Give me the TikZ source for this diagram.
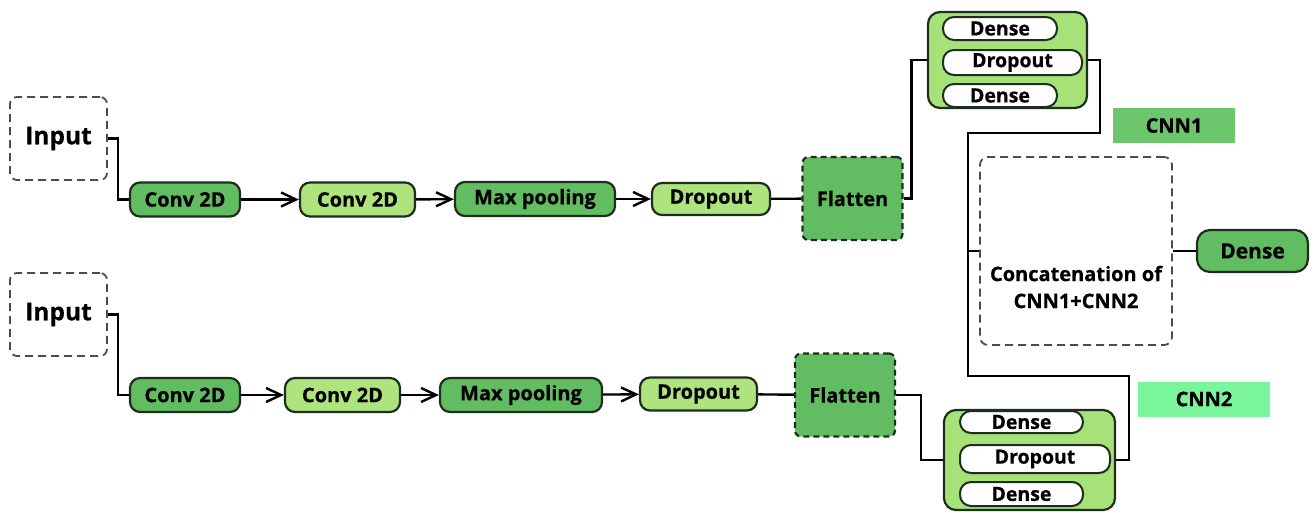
\documentclass[tikz,border=0pt]{standalone}
\usepackage{fontspec}
\setmainfont{Open Sans}[BoldFeatures={FakeBold=0.6}]
\usetikzlibrary{arrows.meta,calc}
\definecolor{gdark}{HTML}{62BD62}
\definecolor{glight}{HTML}{AEE37E}
\definecolor{ggroup}{HTML}{A6E278}
\definecolor{gtag}{HTML}{6CC66C}
\definecolor{gmint}{HTML}{7AF59C}
\definecolor{edge}{HTML}{1E2E1E}
\begin{document}
\begin{tikzpicture}[x=1pt,y=-1pt,
  every node/.style={font=\fontsize{20}{24}\selectfont\bfseries, inner sep=0pt},
  inbox/.style={draw=black!70, line width=1.8pt, dash pattern=on 8pt off 5pt,
    rounded corners=7pt, minimum width=97pt, minimum height=83pt,
    font=\fontsize{24.5}{28}\selectfont\bfseries},
  layerD/.style={draw=edge, line width=2.2pt, fill=gdark, rounded corners=10pt,
    minimum height=34pt},
  layerL/.style={layerD, fill=glight},
  flat/.style={draw=edge, line width=2.2pt, fill=gdark, dash pattern=on 6pt off 4pt,
    rounded corners=6pt, minimum width=100pt, minimum height=83pt},
  group/.style={draw=edge, line width=2.2pt, fill=ggroup, rounded corners=12pt},
  pill/.style={draw=edge, line width=2pt, fill=white, rounded corners=11pt,
    font=\fontsize{19.5}{22}\selectfont\bfseries},
  tag/.style={minimum width=122pt, minimum height=35pt},
  cat/.style={draw=black!70, line width=1.8pt, dash pattern=on 8pt off 5pt,
    rounded corners=8pt, minimum width=192pt, minimum height=188pt},
  wire/.style={draw=black, line width=2.4pt},
  arr/.style={wire, -{Straight Barb[length=15pt, width=14pt, line width=2.4pt]}}
]
\useasboundingbox (0,0) rectangle (1314,512);

% ---- first branch (CNN1) ----
\node[inbox] (in1) at (58.5,138.5) {Input};
\node[layerD, minimum width=110pt] (c11) at (185,199.5) {Conv 2D};
\node[layerL, minimum width=115pt] (c12) at (357.5,199.5) {Conv 2D};
\node[layerD, minimum width=160pt] (mp1) at (535,199) {Max pooling};
\node[layerL, minimum width=118pt, minimum height=32pt] (do1) at (711,199) {Dropout};
\node[flat] (fl1) at (852.5,198.5) {Flatten};

\node[group, minimum width=159pt, minimum height=96pt] (g1) at (1007.5,60) {};
\node[pill, minimum width=114pt, minimum height=23pt] (g1a) at (1000,28.5) {Dense};
\node[pill, minimum width=139pt, minimum height=25pt] (g1b) at (1012.5,62.5) {Dropout};
\node[pill, minimum width=114pt, minimum height=23pt] (g1c) at (1000,95.5) {Dense};

\draw[wire] (in1.east) -- ++(10,0) |- (c11.west);
\draw[arr] (c11) -- (c12);
\draw[arr] (c12) -- (mp1);
\draw[arr] (mp1) -- (do1);
\draw[wire] (do1) -- (fl1);
\draw[wire] (fl1.east) -- ++(8,0) |- (g1.west);

% ---- second branch (CNN2) ----
\node[inbox] (in2) at (58.5,314.5) {Input};
\node[layerD, minimum width=110pt] (c21) at (185,395) {Conv 2D};
\node[layerL, minimum width=115pt] (c22) at (342.5,395) {Conv 2D};
\node[layerD, minimum width=162pt] (mp2) at (521,395) {Max pooling};
\node[layerL, minimum width=117pt, minimum height=33pt] (do2) at (698.5,394) {Dropout};
\node[flat] (fl2) at (845,395) {Flatten};

\node[group, minimum width=171pt, minimum height=100pt] (g2) at (1029.5,460) {};
\node[pill, minimum width=123pt, minimum height=22pt] (g2a) at (1021.5,422) {Dense};
\node[pill, minimum width=150pt, minimum height=28pt] (g2b) at (1035,459) {Dropout};
\node[pill, minimum width=123pt, minimum height=24pt] (g2c) at (1021.5,494) {Dense};

\draw[wire] (in2.east) -- ++(10,0) |- (c21.west);
\draw[arr] (c21) -- (c22);
\draw[arr] (c22) -- (mp2);
\draw[arr] (mp2) -- (do2);
\draw[wire] (do2) -- (fl2);
\draw[wire] (fl2.east) -- ++(25,0) |- (g2.west);

% ---- merge ----
\node[tag, fill=gtag] (t1) at (1174,125.5) {CNN1};
\node[tag, fill=gmint, minimum width=132pt] (t2) at (1204,399) {CNN2};
\node[cat] (cc) at (1076,251) {};
\node[align=center, font=\fontsize{20}{27}\selectfont\bfseries] (cclbl) at (1076,287)
  {Concatenation of\\CNN1+CNN2};
\node[layerD, minimum width=111pt, minimum height=42pt, rounded corners=13pt,
  font=\fontsize{21}{24}\selectfont\bfseries] (dn) at (1252.5,251) {Dense};

\coordinate (busTop) at (968,133);
\coordinate (busBot) at (968,376);
\draw[wire] (g1.east) -- ++(12,0) |- (busTop) -- (busBot) -- ++(161,0) |- (g2.east);
\draw[wire] (busTop |- cc.west) -- (cc.west);
\draw[wire] (cc.east) -- (dn.west);
\end{tikzpicture}
\end{document}
